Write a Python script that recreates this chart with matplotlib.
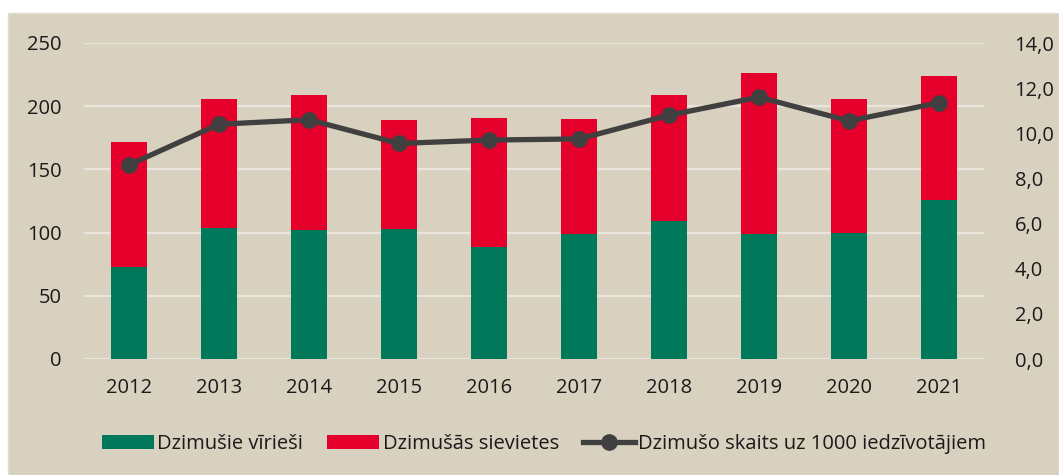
import matplotlib
matplotlib.use("Agg")
import matplotlib.pyplot as plt
from matplotlib.patches import Rectangle, Patch
from matplotlib.lines import Line2D
import numpy as np

years = ["2012", "2013", "2014", "2015", "2016", "2017", "2018", "2019", "2020", "2021"]
male = [73, 104, 102, 103, 89, 99, 109, 99, 100, 126]
total = [172, 206, 209, 189, 191, 190, 209, 226, 206, 224]
female = [t - m for t, m in zip(total, male)]
rate = [8.6, 10.4, 10.6, 9.55, 9.7, 9.75, 10.8, 11.6, 10.55, 11.35]

left_ticks = [0, 50, 100, 150, 200, 250]
right_ticks = [0, 2, 4, 6, 8, 10, 12, 14]

GREEN = "#00785A"
RED = "#E4002B"
LINE = "#404040"
BG = "#D9D1BF"
GRID = "#E9E5DD"

plt.rcParams['font.family'] = ['Open Sans', 'DejaVu Sans']

W, H = 1059, 475
fig = plt.figure(figsize=(W / 100, H / 100), dpi=100, facecolor="white")
fig.patches.append(Rectangle((8 / W, 0), 1 - 8 / W, 1 - 13 / H, transform=fig.transFigure,
                             facecolor=BG, edgecolor="#E3DDD0", linewidth=1, zorder=-10))

ax = fig.add_axes([84 / W, 1 - 359 / H, (984 - 84) / W, (359 - 43) / H])
ax.set_facecolor("none")
x = np.arange(len(years))
ax.bar(x, male, width=0.4, color=GREEN, zorder=2)
ax.bar(x, female, width=0.4, bottom=male, color=RED, zorder=2)
ax.set_xlim(-0.5, len(years) - 0.5)
ax.set_ylim(0, 250)
ax.set_yticks(left_ticks)
ax.set_yticklabels([str(v) for v in left_ticks])
ax.set_xticks(x)
ax.set_xticklabels(years)
ax.grid(axis="y", color=GRID, linewidth=1.6, zorder=1)
ax.set_axisbelow(True)
for s in ax.spines.values():
    s.set_visible(False)
ax.tick_params(axis="both", length=0, labelsize=14.5, colors="#1a1a1a")
ax.tick_params(axis="y", pad=16)
ax.tick_params(axis="x", pad=14)

ax2 = ax.twinx()
ax2.plot(x, rate, color=LINE, linewidth=3.8, marker="o", markersize=11, zorder=3)
ax2.set_ylim(0, 14)
ax2.set_yticks(right_ticks)
ax2.set_yticklabels([f"{v},0" for v in right_ticks])
for s in ax2.spines.values():
    s.set_visible(False)
ax2.tick_params(axis="y", length=0, labelsize=14.5, colors="#1a1a1a", pad=22)

handles = [
    Patch(facecolor=GREEN, edgecolor="none"),
    Patch(facecolor=RED, edgecolor="none"),
    Line2D([0], [0], color=LINE, linewidth=3.8, marker="o", markersize=11),
]
labels = ["Dzimušie vīrieši", "Dzimušās sievietes", "Dzimušo skaits uz 1000 iedzīvotājiem"]
fig.legend(handles, labels, loc="center", bbox_to_anchor=(544 / W, 1 - 444 / H), ncol=3,
           frameon=False, fontsize=14.5, handlelength=2.6, handleheight=0.75,
           handletextpad=0.15, columnspacing=1.2, labelcolor="#1a1a1a")

fig.savefig("out.png", dpi=100, facecolor="white")
